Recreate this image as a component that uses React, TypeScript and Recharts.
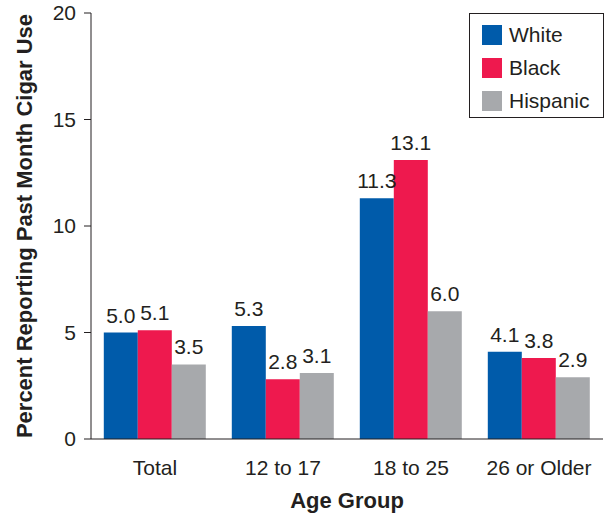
import { BarChart, Bar, XAxis, YAxis, LabelList } from 'recharts';

const ageGroups = ['Total', '12 to 17', '18 to 25', '26 or Older'];
const white = [5.0, 5.3, 11.3, 4.1];
const black = [5.1, 2.8, 13.1, 3.8];
const hispanic = [3.5, 3.1, 6.0, 2.9];
const yTicks = [0, 5, 10, 15, 20];

const series = [
  { key: 'white', name: 'White', color: '#005BAA' },
  { key: 'black', name: 'Black', color: '#EE194E' },
  { key: 'hispanic', name: 'Hispanic', color: '#A7A9AC' },
];

const data = ageGroups.map((group, i) => ({
  group,
  white: white[i],
  black: black[i],
  hispanic: hispanic[i],
}));

const font = '"Liberation Sans", Arial, Helvetica, sans-serif';
const textColor = '#231F20';

// legend drawn as an overlay so it does not shrink the plot area
function LegendBox() {
  return (
    <div
      style={{
        position: 'absolute',
        left: 469,
        top: 13,
        border: '1px solid #231F20',
        width: 135,
        height: 105,
        boxSizing: 'border-box',
        padding: '4px 0 0 12px',
        background: '#fff',
      }}
    >
      {series.map((s) => (
        <div
          key={s.key}
          style={{ display: 'flex', alignItems: 'center', height: 33, fontFamily: font, fontSize: 21, color: textColor }}
        >
          <span style={{ width: 20, height: 20, background: s.color, marginRight: 7, display: 'inline-block' }} />
          {s.name}
        </div>
      ))}
    </div>
  );
}

export default function App() {
  return (
    <div style={{ position: 'absolute', left: 0, top: 0, width: 607, height: 516, background: '#fff' }}>
      <BarChart
        width={607}
        height={516}
        data={data}
        margin={{ top: 13, right: 4, left: 0, bottom: 0 }}
        barCategoryGap="10%"
        barGap={0}
      >
        <XAxis
          dataKey="group"
          height={77}
          interval={0}
          tickLine={false}
          tickSize={0}
          tickMargin={21}
          stroke={textColor}
          tick={{ fill: textColor, fontSize: 21, fontFamily: font }}
          label={{
            value: 'Age Group',
            position: 'insideBottom',
            offset: 8,
            fill: textColor,
            fontSize: 22,
            fontWeight: 'bold',
            fontFamily: font,
          }}
        />
        <YAxis
          width={91}
          domain={[0, 20]}
          ticks={yTicks}
          tickSize={7}
          tickMargin={8}
          stroke={textColor}
          tick={{ fill: textColor, fontSize: 21, fontFamily: font }}
          label={{
            value: 'Percent Reporting Past Month Cigar Use',
            angle: -90,
            position: 'insideLeft',
            offset: 24,
            fill: textColor,
            fontSize: 22,
            fontWeight: 'bold',
            fontFamily: font,
            style: { textAnchor: 'middle' },
          }}
        />
        {series.map((s) => (
          <Bar key={s.key} dataKey={s.key} name={s.name} fill={s.color} isAnimationActive={false}>
            <LabelList
              dataKey={s.key}
              position="top"
              offset={10}
              formatter={(v: number) => v.toFixed(1)}
              style={{ fill: textColor, fontSize: 21, fontFamily: font }}
            />
          </Bar>
        ))}
      </BarChart>
      <LegendBox />
    </div>
  );
}
